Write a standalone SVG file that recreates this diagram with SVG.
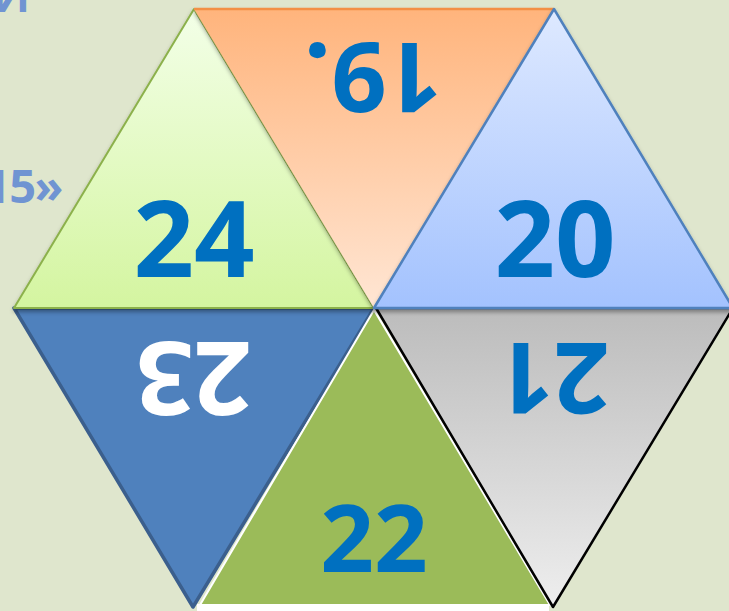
<svg xmlns="http://www.w3.org/2000/svg" width="729" height="611" viewBox="0 0 729 611">
<defs>
<linearGradient id="gGreen" x1="0" y1="0" x2="0" y2="1"><stop offset="0" stop-color="#f3ffe8"/><stop offset="1" stop-color="#d4f5a0"/></linearGradient>
<linearGradient id="gOrange" x1="0" y1="0" x2="0" y2="1"><stop offset="0" stop-color="#ffb47c"/><stop offset="1" stop-color="#ffe6d4"/></linearGradient>
<linearGradient id="gBlue" x1="0" y1="0" x2="0" y2="1"><stop offset="0" stop-color="#dee9ff"/><stop offset="1" stop-color="#a3c2fe"/></linearGradient>
<linearGradient id="gGray" x1="0" y1="0" x2="0" y2="1"><stop offset="0" stop-color="#bcbcbc"/><stop offset="1" stop-color="#eeeeee"/></linearGradient>
<filter id="sh" x="-10%" y="-10%" width="120%" height="130%"><feDropShadow dx="0" dy="3" stdDeviation="2" flood-color="#000" flood-opacity="0.35"/></filter>
</defs>
<style>
.num{font-family:"Open Sans","Liberation Sans",sans-serif;font-weight:bold;fill:#0070c0;text-anchor:middle}
.side{font-family:"Open Sans","Liberation Sans",sans-serif;font-weight:bold;fill:#7094d2}
</style>
<rect width="729" height="611" fill="#dfe6cd"/>
<text class="side" x="30" y="12" font-size="46" text-anchor="end">И</text>
<text class="side" x="62" y="203" font-size="47" text-anchor="end" letter-spacing="-1.5">15»</text>
<g id="connectors"/>
<g id="t23">
<polygon points="14,308 374,308 193,607" fill="#4f81bd" stroke="#3b5f8d" stroke-width="3.5" stroke-linejoin="round"/>
<text class="num" transform="translate(194,342) rotate(180)" font-size="102" style="fill:#ffffff">23</text>
</g>
<g id="t22">
<rect x="197" y="604" width="352" height="7" fill="#ffffff"/>
<polygon points="374,310 200,605 550,605" fill="#9bbb59" stroke="#ffffff" stroke-width="2"/>
<text class="num" x="374" y="572" font-size="94">22</text>
</g>
<g id="t21">
<polygon points="376,308 733,308 553,607" fill="url(#gGray)" stroke="#000000" stroke-width="2.5" stroke-linejoin="round"/>
<text class="num" transform="translate(554,343) rotate(180)" font-size="98">21</text>
</g>
<g id="t24" filter="url(#sh)">
<polygon points="194,9 14,308 374,308" fill="url(#gGreen)" stroke="#8cb14c" stroke-width="2" stroke-linejoin="round"/>
<text class="num" x="194" y="277" font-size="106">24</text>
</g>
<g id="t19" filter="url(#sh)">
<polygon points="194,9 554,9 374,308" fill="url(#gOrange)"/>
<line x1="194" y1="9" x2="554" y2="9" stroke="#f39045" stroke-width="2.5"/>
<text class="num" transform="translate(373,43) rotate(180)" font-size="97">19.</text>
</g>
<g id="t20" filter="url(#sh)">
<polygon points="554,9 374,308 733,308" fill="url(#gBlue)" stroke="#4f81bd" stroke-width="2.5" stroke-linejoin="round"/>
<text class="num" x="555" y="277" font-size="106">20</text>
</g>
</svg>
